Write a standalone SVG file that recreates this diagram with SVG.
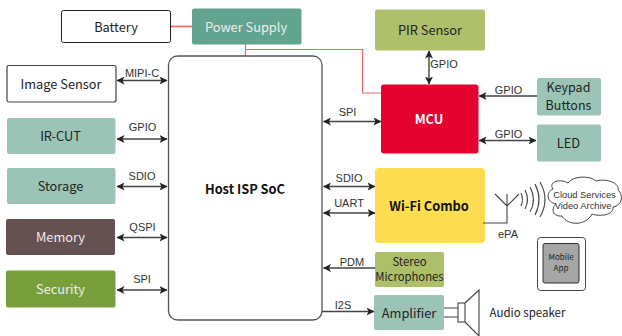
<svg xmlns="http://www.w3.org/2000/svg" width="622" height="336" viewBox="0 0 622 336">
<style>
text{font-family:"Noto Sans CJK SC","Noto Sans",sans-serif;font-size:12.800px;text-anchor:middle;fill:#222}
.l{font-family:"Liberation Sans",Arial,sans-serif;font-size:11px;fill:#333}
.w{fill:#eee}
.b{font-weight:700;fill:#111}
.n{stroke-width:1}
.c{fill:none;stroke:#444;stroke-width:1.4}
.p{fill:none;stroke:#ee6a6a;stroke-width:1.2}
.s{fill:none;stroke:#444;stroke-width:1.1}
</style>
<defs>
<marker id="e" viewBox="0 0 8 8" refX="7.5" refY="4" markerWidth="8" markerHeight="8" markerUnits="userSpaceOnUse" orient="auto-start-reverse"><path d="M0 0L8 4L0 8L2 4Z" fill="#222"/></marker>
</defs>
<g id="connectors">
<path class="p" d="M170 26.500H192" style="stroke-width:1.800"/>
<path class="p" d="M245.500 44V56M245.500 49.500H362.500V93H381"/>
<path class="c" d="M117 80.500H167" marker-start="url(#e)" marker-end="url(#e)"/>
<path class="c" d="M117 139H167" marker-start="url(#e)" marker-end="url(#e)"/>
<path class="c" d="M117 186.500H167" marker-start="url(#e)" marker-end="url(#e)"/>
<path class="c" d="M117 237.500H167" marker-start="url(#e)" marker-end="url(#e)"/>
<path class="c" d="M117 290H167" marker-start="url(#e)" marker-end="url(#e)"/>
<path class="c" d="M429 51V84" marker-start="url(#e)" marker-end="url(#e)"/>
<path class="c" d="M537 96H479" marker-end="url(#e)"/>
<path class="c" d="M479 140.500H536" marker-start="url(#e)" marker-end="url(#e)"/>
<path class="c" d="M323.500 121.500H381" marker-start="url(#e)" marker-end="url(#e)"/>
<path class="c" d="M323.500 186.500H375" marker-start="url(#e)" marker-end="url(#e)"/>
<path class="c" d="M323.500 213H375" marker-start="url(#e)" marker-end="url(#e)"/>
<path class="c" d="M375 268H323.500" marker-end="url(#e)"/>
<path class="c" d="M322 311.500H374" marker-end="url(#e)"/>
<text class="l" x="142" y="77">MIPI-C</text>
<text class="l" x="142.500" y="131">GPIO</text>
<text class="l" x="142" y="180">SDIO</text>
<text class="l" x="142.500" y="231">QSPI</text>
<text class="l" x="142" y="283">SPI</text>
<text class="l" x="444" y="68">GPIO</text>
<text class="l" x="508.500" y="94">GPIO</text>
<text class="l" x="508.500" y="138">GPIO</text>
<text class="l" x="347.500" y="116">SPI</text>
<text class="l" x="349" y="182">SDIO</text>
<text class="l" x="349" y="207">UART</text>
<text class="l" x="352" y="266">PDM</text>
<text class="l" x="343" y="309">I2S</text>
</g>
<g id="battery"><rect class="n" x="61.500" y="10.500" width="109" height="32" rx="2" fill="#fff" stroke="#222"/><text x="116" y="32">Battery</text></g>
<g id="power-supply"><rect x="192" y="8.500" width="109.500" height="36" rx="2" fill="#62a48f"/><text class="w" x="246" y="32">Power Supply</text></g>
<g id="host-soc"><rect x="168.500" y="56" width="153.500" height="264" rx="9" fill="#fff" stroke="#555" stroke-width="1.300"/><text class="b" x="245" y="193.500">Host ISP SoC</text></g>
<g id="image-sensor"><rect x="7" y="65.500" width="109" height="36.500" rx="2" fill="#fff" stroke="#444" stroke-width="1.200"/><text x="61" y="89">Image Sensor</text></g>
<g id="ir-cut"><rect x="7" y="118" width="108.500" height="36" rx="2" fill="#9cc4b6"/><text x="60.500" y="141">IR-CUT</text></g>
<g id="storage"><rect x="7" y="168" width="108.500" height="36" rx="2" fill="#9cc4b6"/><text x="60.500" y="191">Storage</text></g>
<g id="memory"><rect x="6" y="219" width="109" height="36" rx="2" fill="#655052"/><text class="w" x="60.500" y="242">Memory</text></g>
<g id="security"><rect x="6" y="270.500" width="109.500" height="37" rx="2" fill="#789f3b"/><text class="w" x="60.500" y="294">Security</text></g>
<g id="pir-sensor"><rect x="375" y="9.500" width="110" height="41" rx="2" fill="#afc06b"/><text x="430" y="35">PIR Sensor</text></g>
<g id="mcu"><rect x="381" y="84.500" width="97.500" height="69" rx="3" fill="#e4002f"/><text class="b" x="429" y="124" style="fill:#fff">MCU</text></g>
<g id="keypad"><rect x="537" y="78" width="64" height="37.500" rx="2" fill="#9cc4b6"/><text x="568.500" y="92" style="font-size:12.500px">Keypad</text><text x="568.500" y="110.200" style="font-size:12.500px">Buttons</text></g>
<g id="led"><rect x="537" y="124.500" width="64" height="37" rx="2" fill="#9cc4b6"/><text x="568.500" y="148">LED</text></g>
<g id="wifi"><rect x="375" y="168" width="110" height="75" rx="4" fill="#fedd50"/><text class="b" x="429" y="211">Wi-Fi Combo</text></g>
<g id="microphones"><rect x="375" y="252" width="69" height="35" rx="2" fill="#adbf68"/><text x="409.500" y="266" style="font-size:11.300px">Stereo</text><text x="409.500" y="281" style="font-size:11.300px">Microphones</text></g>
<g id="amplifier"><rect x="374" y="295" width="70" height="35" rx="2" fill="#9cc4b6"/><text x="409" y="317.500">Amplifier</text></g>
<g id="antenna">
<path class="s" d="M483 223H507V194M495 194L507 206L519 194"/>
<path class="s" d="M521 193Q524 199.500 521 206M525 190Q530 199.500 525 209M530 187Q537 199.500 530 212M535 184Q543 199.500 535 215M540 182Q550 199.500 540 217"/>
<text class="l" x="508" y="238">ePA</text>
</g>
<g id="cloud"><path d="M553 189C548 182 560 178 568 183C572 176 590 175 596 181C606 178 620 183 618 190C624 195 622 206 613 207C614 215 600 217 592 214C586 226 568 226 562 216C552 217 551 208 556 204C546 202 546 192 553 189Z" fill="#fff" stroke="#444" stroke-width="1"/><text class="l" x="584.500" y="197.500" style="font-size:9.300px">Cloud Services</text><text class="l" x="583" y="208.500" style="font-size:9.300px">Video Archive</text></g>
<g id="mobile-app"><rect x="537.500" y="237.500" width="48" height="53" rx="3" fill="#fff" stroke="#444"/><rect x="543" y="243.500" width="36" height="39.500" rx="2" fill="#a6a6a6" stroke="#333"/><text x="561" y="260" style="font-size:8px">Mobile</text><text x="561" y="271" style="font-size:8px">App</text></g>
<g id="speaker"><path class="s" d="M444 308H458M444 317H458"/><rect x="458" y="303" width="7" height="19" fill="#fff" stroke="#444" stroke-width="1.100"/><path class="s" d="M465 303L479 290V336L465 322"/><text x="527.500" y="317" style="font-size:11.500px">Audio speaker</text></g>
</svg>
